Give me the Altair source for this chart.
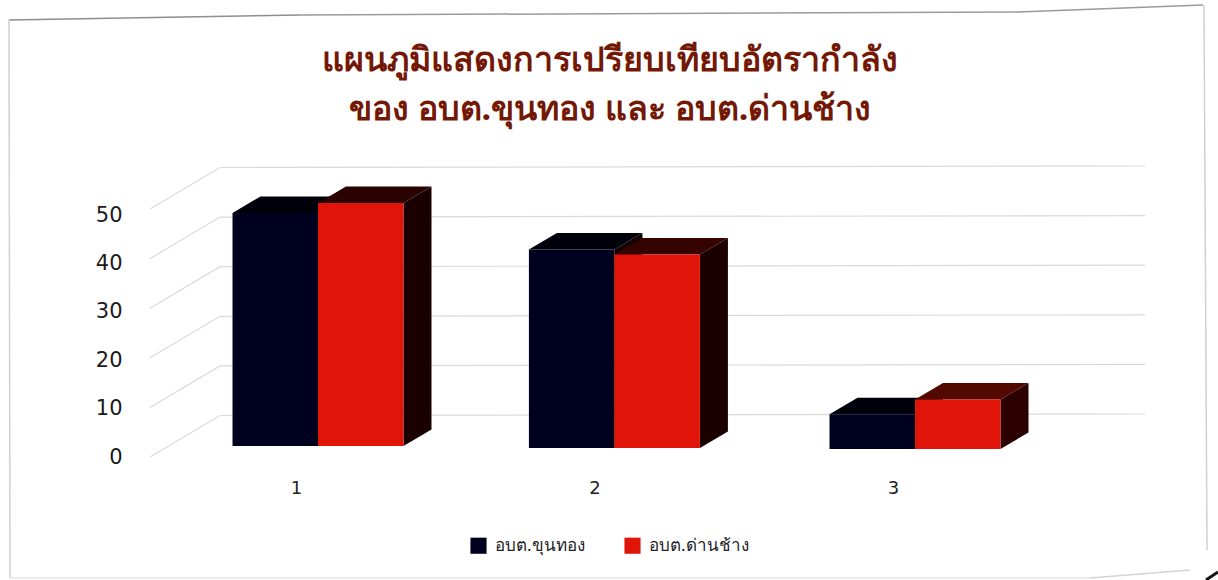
import altair as alt
import pandas as pd

# Chart values
groups = [1, 2, 3]
series_names = ["อบต.ขุนทอง", "อบต.ด่านช้าง"]
khun_thong = [47, 40, 7]
dan_chang = [49, 39, 10]
tick_values = [0, 10, 20, 30, 40, 50]
title_lines = ["แผนภูมิแสดงการเปรียบเทียบอัตรากำลัง", "ของ อบต.ขุนทอง และ อบต.ด่านช้าง"]

W, H = 1218, 580
PX_PER_GROUP = 298.5
PX_PER_VALUE = 4.96
BAR_W = 85.5 / PX_PER_GROUP
DEPTH_X = 28 / PX_PER_GROUP
DEPTH_Y = 16.5 / PX_PER_VALUE

# The floor of the chart runs slightly downhill from left to right
floor = {1: 0.3, 2: -0.1, 3: -0.3}
nudge = {1: 0.0, 2: -0.007, 3: 0.0}

# Face colours per series and group
top_colours = {series_names[0]: ["#00000a", "#00000a", "#00000a"], series_names[1]: ["#2a0200", "#360400", "#520a00"]}
side_colours = {series_names[0]: ["#120000"] * 3, series_names[1]: ["#1a0000", "#1c0000", "#2c0000"]}

x_scale = alt.Scale(domain=[1 - 318 / PX_PER_GROUP, 1 + (W - 318) / PX_PER_GROUP], nice=False, zero=False)
y_scale = alt.Scale(domain=[-(H - 447.5) / PX_PER_VALUE, 447.5 / PX_PER_VALUE], nice=False, zero=False)
X = alt.X("x:Q", scale=x_scale, axis=None)
Y = alt.Y("y:Q", scale=y_scale, axis=None)
Y2 = alt.Y2("y2:Q")


# One slanted face of a bar; rows run left to right
def face(rows, colour):
    return alt.Chart(pd.DataFrame(rows)).mark_area(color=colour, opacity=1).encode(x=X, y=Y, y2=Y2)


front, side_layers, top_layers = [], [], []
for name, vals, sign in ((series_names[0], khun_thong, -1), (series_names[1], dan_chang, 0)):
    for i, (g, v) in enumerate(zip(groups, vals)):
        base = floor[g]
        level = base + v
        left = g + nudge[g] + sign * BAR_W
        right = left + BAR_W
        front.append(dict(series=name, x=left, x2=right, y=base, y2=level))
        top_layers.append(face([
            dict(x=left, y=level, y2=level),
            dict(x=left + DEPTH_X, y=level, y2=level + DEPTH_Y),
            dict(x=right, y=level, y2=level + DEPTH_Y),
            dict(x=right + DEPTH_X, y=level + DEPTH_Y, y2=level + DEPTH_Y),
        ], top_colours[name][i]))
        side_layers.append(face([
            dict(x=right, y=base, y2=level),
            dict(x=right + DEPTH_X, y=base + DEPTH_Y, y2=level + DEPTH_Y),
        ], side_colours[name][i]))

# Back wall and left wall gridlines
WALL_LEFT = (220 - 318) / PX_PER_GROUP + 1
WALL_RIGHT = (1145 - 318) / PX_PER_GROUP + 1
WALL_FRONT = (150 - 318) / PX_PER_GROUP + 1
grid = []
for t in tick_values:
    back = t + (447.5 - 415.5) / PX_PER_VALUE
    grid += [
        dict(k=t, x=WALL_FRONT, y=t - 9.5 / PX_PER_VALUE),
        dict(k=t, x=WALL_LEFT, y=back),
        dict(k=t, x=WALL_RIGHT, y=back + 0.3),
    ]

grid_layer = alt.Chart(pd.DataFrame(grid)).mark_line(color="#dadad8", strokeWidth=1.2).encode(
    x=X, y=Y, detail="k:N", order="x:Q"
)

color = alt.Color(
    "series:N",
    scale=alt.Scale(domain=series_names, range=["#00001f", "#e01408"]),
    legend=alt.Legend(
        orient="none", legendX=470, legendY=537, direction="horizontal", title=None,
        symbolType="square", symbolSize=260, symbolStrokeWidth=0,
        labelFont="Noto Sans", labelFontSize=17, labelColor="#222222", columnPadding=39, labelOffset=8,
    ),
)

bars = alt.Chart(pd.DataFrame(front)).mark_bar().encode(
    x=X, x2=alt.X2("x2:Q"), y=Y, y2=Y2, color=color
)

# Category and value labels, drawn by their own axes
tick_axis = alt.Chart(pd.DataFrame({"y": tick_values, "x": [1] * len(tick_values)})).mark_point(opacity=0).encode(
    x=alt.X("x:Q", scale=x_scale, axis=alt.Axis(
        orient="bottom", values=groups, format="d", domain=False, ticks=False, grid=False, title=None,
        labelFont="DejaVu Sans", labelFontSize=18, labelColor="#222222", labelPadding=0,
        labelOffset=-22, offset=-(H - 479),
    )),
    y=alt.Y("y:Q", scale=alt.Scale(domain=[-(H - 457) / 4.84, 457 / 4.84], nice=False, zero=False), axis=alt.Axis(
        orient="left", values=tick_values, format="d", domain=False, ticks=False, grid=False, title=None,
        labelFont="DejaVu Sans", labelFontSize=21, labelColor="#1a1a1a", labelPadding=0,
        offset=-122,
    )),
)

title_df = pd.DataFrame({"t": title_lines, "x": [(610 - 318) / PX_PER_GROUP + 1] * 2,
                         "y": [(447.5 - 61) / PX_PER_VALUE, (447.5 - 110) / PX_PER_VALUE]})
title_layer = alt.Chart(title_df).mark_text(
    font="Noto Sans", fontSize=34, fontWeight="bold", color="#741806", align="center", baseline="middle"
).encode(x=X, y=Y, text="t:N")


# Thin frame round the chart
def edge(x1, y1, x2, y2, colour, width=1.5):
    return alt.Chart(pd.DataFrame({"k": [0]})).mark_rule(color=colour, strokeWidth=width).encode(
        x=alt.value(x1), y=alt.value(y1), x2=alt.value(x2), y2=alt.value(y2)
    )


frame = [
    edge(9, 20, 300, 15, "#8e8e8e"),
    edge(300, 15, 1018, 12, "#9a9a9a"),
    edge(1018, 12, 1203, 5, "#9a9a9a"),
    edge(1204, 5, 1207, 550, "#d0d0d0"),
    edge(9, 20, 10, 578, "#d0d0d0"),
    edge(10, 578, 1090, 578, "#e4e4e4"),
    edge(1090, 578, 1190, 570, "#d4d4d4"),
    edge(1206, 580, 1218, 572, "#111111", 3),
]

marks = alt.layer(*frame, grid_layer, *side_layers, *top_layers, bars, title_layer)

chart = (
    alt.layer(marks, tick_axis)
    .resolve_scale(x="independent", y="independent")
    .properties(width=W, height=H, padding=0, background="#ffffff", autosize=alt.AutoSizeParams(type="none"))
    .configure_view(stroke=None)
)

chart.save("out.html", embed_options={"renderer": "svg", "actions": False})
